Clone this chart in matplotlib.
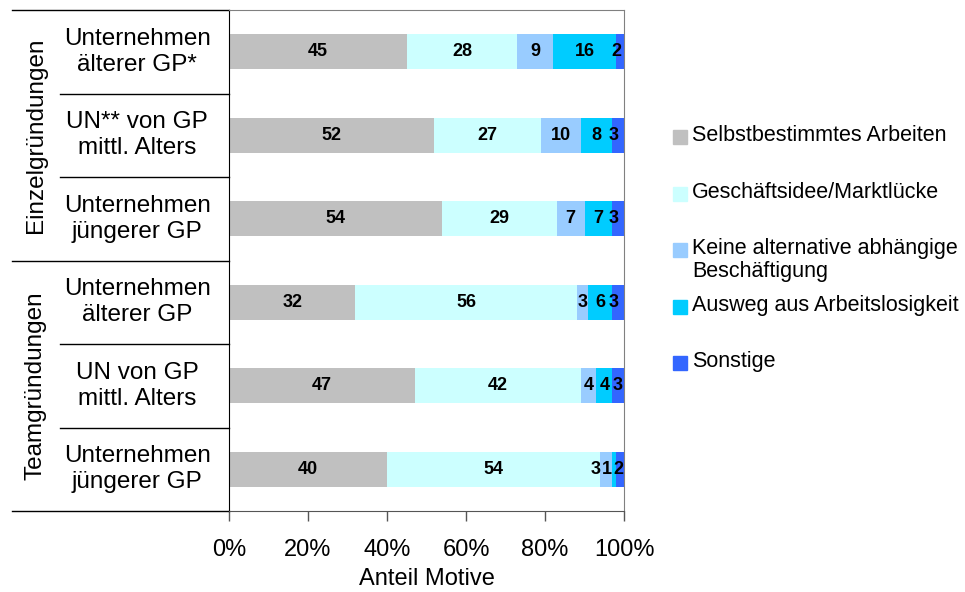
import matplotlib
matplotlib.use("Agg")
import matplotlib.pyplot as plt
from matplotlib.patches import Rectangle

plt.rcParams['font.family'] = ['Liberation Sans', 'DejaVu Sans']

rows = ["Unternehmen\nälterer GP*", "UN** von GP\nmittl. Alters", "Unternehmen\njüngerer GP",
        "Unternehmen\nälterer GP", "UN von GP\nmittl. Alters", "Unternehmen\njüngerer GP"]
groups = ["Einzelgründungen", "Teamgründungen"]
motive = ["Selbstbestimmtes Arbeiten", "Geschäftsidee/Marktlücke",
          "Keine alternative abhängige\nBeschäftigung", "Ausweg aus Arbeitslosigkeit", "Sonstige"]
selbst = [45, 52, 54, 32, 47, 40]
idee = [28, 27, 29, 56, 42, 54]
keine = [9, 10, 7, 3, 4, 3]
ausweg = [16, 8, 7, 6, 4, 1]
sonst = [2, 3, 3, 3, 3, 2]
colors = ["#C0C0C0", "#CCFFFF", "#99CCFF", "#00CCFF", "#3366FF"]
ticks = [0, 20, 40, 60, 80, 100]

fig = plt.figure(figsize=(9.65, 5.92), dpi=100)
ax = fig.add_axes([229/965, 1 - 511/592, 395/965, 501/592])

y = list(range(len(rows)))
left = [0] * len(rows)
all_labels = []
for vals, col in zip([selbst, idee, keine, ausweg, sonst], colors):
    bars = ax.barh(y, vals, left=left, height=0.42, color=col, linewidth=0)
    labs = ax.bar_label(bars, labels=[str(v) for v in vals], label_type='center',
                        fontsize=13, fontweight='bold', padding=0)
    all_labels.append(labs)
    left = [a + b for a, b in zip(left, vals)]

# narrow segments: nudge labels left a bit like the original
for lab in all_labels[4]:
    lab.xyann = (-3, 0)
all_labels[4][4].xyann = (-0.5, 0)
all_labels[2][5].xyann = (-7.5, 0)
all_labels[3][5].xyann = (-5.5, 0)
all_labels[4][5].xyann = (-1, 0)

ax.set_xlim(0, 100)
ax.set_ylim(5.5, -0.5)
ax.set_xticks(ticks)
ax.set_xticklabels([f"{t}%" for t in ticks], fontsize=17)
ax.tick_params(axis='x', length=7, width=1, pad=13, color='#555555')
ax.set_yticks([])
ax.set_xlabel("Anteil Motive", fontsize=17, labelpad=5)
for s in ['top', 'right']:
    ax.spines[s].set_color('#808080')
ax.spines['left'].set_color('black')
ax.spines['bottom'].set_color('#555555')

# row labels and separators left of the axes
lx = -0.232
for i, r in enumerate(rows):
    ax.text(lx, i, r, transform=ax.get_yaxis_transform(), ha='center', va='center',
            fontsize=17.5, linespacing=1.22)
tr = ax.get_yaxis_transform()
for b in [-0.5, 2.5, 5.5]:
    ax.plot([-0.549, 0], [b, b], color='black', lw=1, transform=tr, clip_on=False)
for b in [0.5, 1.5, 3.5, 4.5]:
    ax.plot([-0.428, 0], [b, b], color='black', lw=1, transform=tr, clip_on=False)
for g, yc in zip(groups, [1, 4]):
    ax.text(-0.489, yc, g, transform=tr, ha='center', va='center', rotation=90, fontsize=17.5)

# legend
ly = [137, 194, 250, 307, 363]
for name, col, yy in zip(motive, colors, ly):
    fig.patches.append(Rectangle((673/965, 1 - (yy + 7)/592), 14/965, 14/592,
                                 transform=fig.transFigure, color=col, figure=fig))
    fig.text(692/965, 1 - (yy - 12)/592, name, fontsize=15.5, va='top', ha='left',
             linespacing=1.1)

fig.savefig("out.png", dpi=100)
